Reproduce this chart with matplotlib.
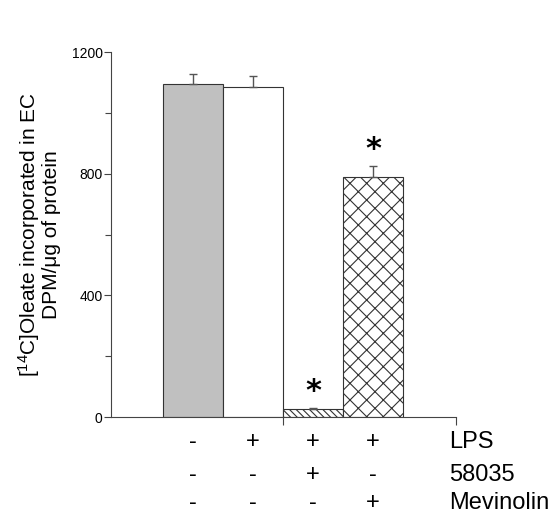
import matplotlib
matplotlib.use("Agg")
import matplotlib.pyplot as plt
from matplotlib.transforms import blended_transform_factory

plt.rcParams['font.family'] = ['Liberation Sans', 'DejaVu Sans']
plt.rcParams['mathtext.fontset'] = 'custom'
plt.rcParams['mathtext.rm'] = 'Liberation Sans'
plt.rcParams['mathtext.it'] = 'Liberation Sans'
plt.rcParams['hatch.linewidth'] = 0.8

# datos
values = [1095, 1085, 26, 789]
errors = [33, 36, 4, 36]
colors = ['#c0c0c0', 'white', 'white', 'white']
hatches = [None, None, '\\\\\\\\\\', 'xx']
stars = [False, False, True, True]
row_names = ['LPS', '58035', 'Mevinolin']
rows = [['-', '+', '+', '+'],
        ['-', '-', '+', '-'],
        ['-', '-', '-', '+']]

fig = plt.figure(figsize=(5.53, 5.17), dpi=100)
ax = fig.add_axes([0.2007, 0.1934, 0.6239, 0.706])

pos = [1.367 + i for i in range(4)]
for i, v in enumerate(values):
    ax.bar(pos[i], v, width=1.0, color=colors[i], edgecolor='#333333',
           linewidth=0.8, hatch=hatches[i], zorder=2)
    ax.errorbar(pos[i], v, yerr=[[0], [errors[i]]], fmt='none',
                ecolor='#555555', elinewidth=1, capsize=3, capthick=1, zorder=3)
    if stars[i]:
        ax.text(pos[i], v + errors[i] + 6, '*', ha='center', va='bottom',
                fontsize=22, fontweight='bold', family='DejaVu Sans')

ax.set_xlim(0, 5.75)
ax.set_ylim(0, 1200)
ax.set_yticks([0, 400, 800, 1200])
ax.set_yticks([200, 600, 1000], minor=True)
ax.set_xticks([2.867, 5.75])
ax.set_xticklabels([])
ax.tick_params(axis='y', direction='out', length=5, width=0.8, labelsize=10, pad=1, colors='#444444', labelcolor='black')
ax.tick_params(axis='y', which='minor', length=4, width=0.8, colors='#444444')
ax.tick_params(axis='x', direction='out', length=6, width=0.8, colors='#444444')
for s in ['top', 'right']:
    ax.spines[s].set_visible(False)
for s in ['left', 'bottom']:
    ax.spines[s].set_color('#444444')
    ax.spines[s].set_linewidth(0.8)

ax.set_ylabel('[$^{14}$C]Oleate incorporated in EC\nDPM/\u03bcg of protein',
              fontsize=15, linespacing=0.95, labelpad=8)

tr = blended_transform_factory(ax.transData, fig.transFigure)
row_y = [1 - 442 / 517, 1 - 475 / 517, 1 - 503 / 517]
for r, row in enumerate(rows):
    for i, sym in enumerate(row):
        ax.text(pos[i], row_y[r], sym, transform=tr, ha='center', va='center', fontsize=17)
    fig.text(0.812, row_y[r], row_names[r], ha='left', va='center', fontsize=17)

fig.savefig('out.png', dpi=100)
